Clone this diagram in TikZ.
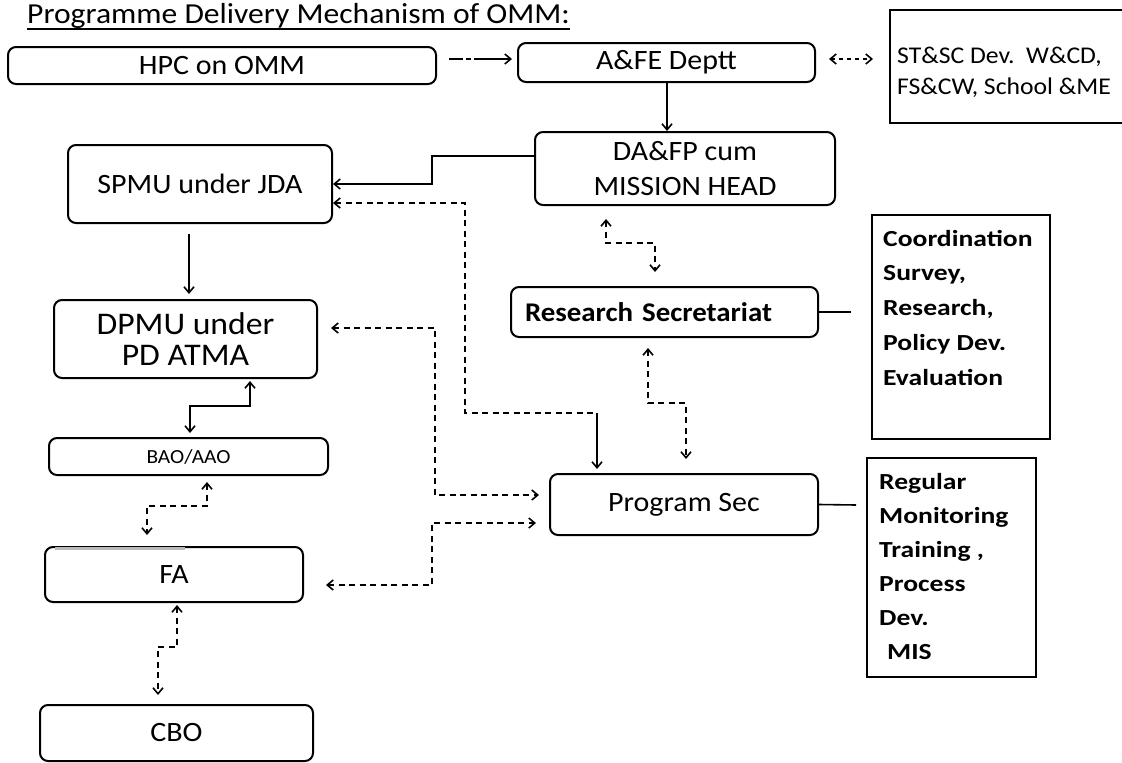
\documentclass[tikz,border=0pt]{standalone}
\usepackage{fontspec}
\setmainfont{Carlito}[FakeStretch=1.07]
\newfontfamily\widefont{Carlito}[FakeStretch=1.2]
\newfontfamily\titlefont{Carlito}[FakeStretch=1.09]
\usetikzlibrary{arrows.meta,calc}
\begin{document}
\begin{tikzpicture}[x=1pt,y=-1pt,
  every node/.style={font=\fontsize{28pt}{35pt}\selectfont, inner sep=0pt},
  rbox/.style={draw, line width=2pt, rounded corners=8pt, align=center},
  sbox/.style={draw, line width=2pt},
  ln/.style={line width=1.6pt},
  dsh/.style={line width=1.6pt, dash pattern=on 6pt off 4.5pt},
  >={Straight Barb[length=6pt,width=10pt]},
]
\fill[white] (0,0) rectangle (1122,763);
\useasboundingbox (0,0) rectangle (1122,763);

% title
\node[anchor=base west, font={\titlefont\fontsize{29pt}{34pt}\selectfont}] (title) at (27,23) {Programme Delivery Mechanism of OMM:};
\draw[line width=1.6pt] ($(title.base west)+(0,6)$) -- ($(title.base east)+(0,6)$);

% boxes
\node[rbox, minimum width=428pt, minimum height=37pt] (hpc) at (222,65.5) {HPC on OMM};
\node[rbox, minimum width=297pt, minimum height=39pt] (afe) at (666.5,62.5) {A\&FE Deptt};
\node[anchor=west, align=left, font=\fontsize{24pt}{31pt}\selectfont] (stsc) at (897,72.5) {ST\&SC Dev.\ \ W\&CD,\\FS\&CW, School \&ME};
\draw[sbox] (1122,10) -- (890,10) -- (890,123) -- (1122,123);
\node[rbox, minimum width=300pt, minimum height=73pt] (dafp) at (685,168.5) {DA\&FP cum\\MISSION HEAD};
\node[rbox, minimum width=264pt, minimum height=78pt] (spmu) at (200,184) {SPMU under JDA};
\node[rbox, minimum width=263pt, minimum height=78pt, font=\fontsize{31.5pt}{31pt}\selectfont] (dpmu) at (185.5,339) {DPMU under\\PD ATMA};
\node[rbox, minimum width=307pt, minimum height=50pt, text width=279pt, align=left, font={\bfseries\fontsize{27pt}{30pt}\selectfont}] (res) at (664.5,312) {Research Secretariat};
\node[sbox, minimum width=178pt, minimum height=224pt] (coord) at (961,327) {};
\node[anchor=west, align=left, font={\widefont\bfseries\fontsize{23pt}{34.75pt}\selectfont}] (coordt) at (883,307.5) {Coordination\\Survey,\\Research,\\Policy Dev.\\Evaluation};
\node[rbox, minimum width=279pt, minimum height=37pt, font=\fontsize{20pt}{24pt}\selectfont] (bao) at (188.5,456.5) {BAO/AAO};
\node[rbox, minimum width=268pt, minimum height=61pt] (prog) at (684,504.5) {Program Sec};
\node[sbox, minimum width=169pt, minimum height=219pt] (reg) at (951.5,567.5) {};
\node[anchor=west, align=left, font={\widefont\bfseries\fontsize{23pt}{34pt}\selectfont}] (regt) at (879,567) {Regular\\Monitoring\\Training ,\\Process\\Dev.\\\hspace*{8pt}MIS};
\node[rbox, minimum width=258pt, minimum height=55pt] (fa) at (174,574.5) {FA};
\draw[line width=3.5pt, gray!55] (55,548.5) -- (185,548.5);
\node[rbox, minimum width=273pt, minimum height=56pt] (cbo) at (176.5,733) {CBO};

% connectors
\draw[ln,->, dash pattern=on 14pt off 3pt on 5pt off 3pt on 40pt] ($(hpc.east)+(12,-6.5)$) -- ($(afe.west)+(-5,-3.5)$);
\draw[ln,<->, dash pattern=on 4pt off 4pt] ($(afe.east)+(13,-3.5)$) -- ($(stsc.west)+(-24,-13.5)$);
\draw[ln,->] ($(afe.south)+(0.5,0)$) -- ($(dafp.north)+(-18,0)$);
\draw[ln,->] ($(dafp.west)+(0,-12.5)$) -- (432,156) -- (432,184) -- (spmu.east);

\coordinate (k1) at (597,413);
\draw[dsh,<-] ($(spmu.east)+(0,19)$) -- (465,203) -- (465,413) -- (k1);
\draw[ln,->] (k1) -- ($(prog.north)+(-87,-4)$);

\draw[dsh,<->] ($(dpmu.east)+(13,-11)$) -- (435,328) -- (435,495) -- ($(prog.west)+(-10,-9.5)$);
\draw[dsh,<->] ($(fa.east)+(22,10.5)$) -- (432,585) -- (432,523) -- ($(prog.west)+(-13,18.5)$);

\draw[dsh,<->] ($(dafp.south)+(-79,13)$) -- (606,243) -- (655,243) -- ($(res.north)+(-9.5,-14)$);
\draw[dsh,<->] ($(res.south)+(-16.5,10)$) -- (648,403) -- (686,403) -- ($(prog.north)+(2,-14)$);

\draw[ln] (res.east) -- ($(coord.west)+(-20,-15)$);
\draw[ln] (prog.east) -- ($(reg.west)+(-10,-62.5)$);

\draw[ln,->] ($(spmu.south)+(-11,10)$) -- ($(dpmu.north)+(3.5,-5)$);
\draw[ln,<->] ($(dpmu.south)+(64.5,2)$) -- (250,406) -- (190,406) -- ($(bao.north)+(1.5,-4)$);
\draw[dsh,<->] ($(bao.south)+(18.5,6)$) -- (207,506) -- (147,506) -- ($(fa.north)+(-27,-11)$);
\draw[dsh,<->] ($(fa.south)+(3,2)$) -- (177,647) -- (158,647) -- ($(cbo.north)+(-18.5,-9)$);
\end{tikzpicture}
\end{document}
